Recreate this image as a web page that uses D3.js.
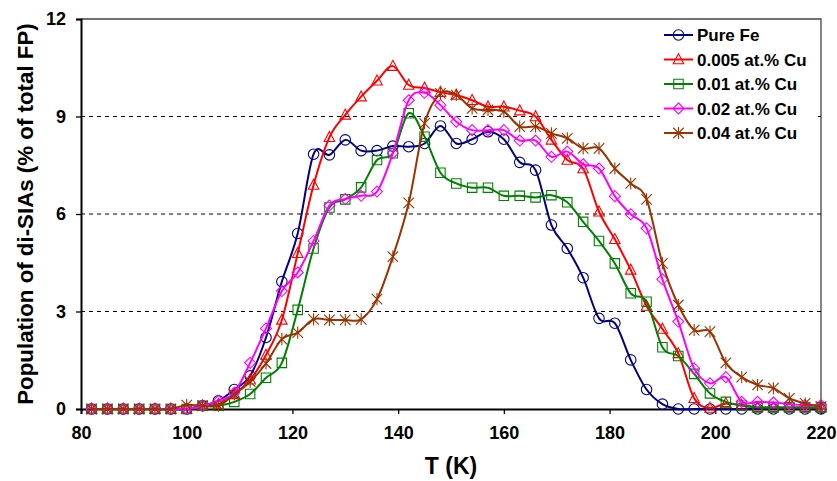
<!DOCTYPE html>
<html lang="en">
<head>
<meta charset="UTF-8">
<title>Population of di-SIAs</title>
<script src="https://d3js.org/d3.v7.min.js"></script>
<style>
  body { margin: 0; background: #fff; }
  svg { font-family: Arial, "Liberation Sans", sans-serif; font-weight: bold; }
  path.line { fill: none; stroke-width: 2px; }
  .marker { fill: none; stroke-width: 1.1px; }
  .grid line { stroke: #000; stroke-dasharray: 4 4; stroke-width: 1px; }
</style>
</head>
<body>
<svg width="837" height="481"></svg>
<script>
// temperatures (K)
let temps = [82,85,88,91,94,97,100,103,106,109,112,115,118,121,124,127,130,133,136,139,142,145,148,151,154,157,160,163,166,169,172,175,178,181,184,187,190,193,196,199,202,205,208,211,214,217,220];

let pureFe = [0,0,0,0,0,0,0,0.1,0.25,0.6,1.02,2.2,3.92,5.4,7.84,7.82,8.28,7.95,7.95,8.09,8.07,8.17,8.71,8.17,8.3,8.53,8.3,7.59,7.35,5.66,4.94,4.04,2.79,2.64,1.51,0.6,0.15,0,0,0,0,0,0,0,0,0,0];
let cu005 = [0,0,0,0,0,0,0,0.1,0.15,0.45,0.9,1.66,2.74,4.79,6.89,8.36,9.05,9.61,10.1,10.55,9.97,9.88,9.75,9.66,9.5,9.3,9.3,9.18,9.0,8.28,7.66,7.4,6.07,5.22,4.28,3.17,2.46,1.71,0.33,0.03,0.17,0.12,0.05,0.05,0.05,0.05,0.05];
let cu01 = [0,0,0,0,0,0,0,0.1,0.1,0.22,0.46,0.96,1.42,3.05,4.94,6.2,6.45,6.82,7.66,7.87,9.1,8.38,7.27,6.94,6.81,6.81,6.56,6.56,6.51,6.58,6.36,5.76,5.17,4.48,3.56,3.3,1.9,1.63,1.08,0.48,0.22,0.1,0.05,0.05,0.05,0.05,0.05];
let cu02 = [0,0,0,0,0,0,0,0.1,0.25,0.5,1.42,2.48,3.63,4.2,5.17,6.26,6.46,6.56,6.69,7.87,9.5,9.73,9.35,8.84,8.58,8.58,8.58,8.26,8.26,7.76,7.92,7.53,7.4,6.55,5.99,5.56,3.99,2.69,1.25,0.79,0.98,0.22,0.22,0.2,0.15,0.12,0.12];
let cu04 = [0,0,0,0,0,0,0.12,0.1,0.1,0.45,0.84,1.4,2.15,2.35,2.76,2.74,2.74,2.76,3.38,4.69,6.34,8.79,9.71,9.66,9.25,9.2,9.15,8.69,8.69,8.48,8.33,8.02,8.02,7.4,6.94,6.45,4.48,3.2,2.43,2.38,1.42,0.98,0.74,0.64,0.33,0.17,0.07];

let seriesNames = ["Pure Fe", "0.005 at.% Cu", "0.01 at.% Cu", "0.02 at.% Cu", "0.04 at.% Cu"];
let seriesColors = ["#000080", "#ff0000", "#008000", "#ff00ff", "#993300"];
let seriesMarkers = ["circle", "triangle", "square", "diamond", "star"];
let seriesValues = [pureFe, cu005, cu01, cu02, cu04];

let xTicks = [80,100,120,140,160,180,200,220];
let yTicks = [0,3,6,9,12];
let gridValues = [3,6,9];

let svg = d3.select('svg');
let plot = {left: 81, right: 821, top: 19, bottom: 409};

let xScale = d3.scaleLinear().domain([80,220]).range([plot.left, plot.right]);
let yScale = d3.scaleLinear().domain([0,12]).range([plot.bottom, plot.top]);

// frame (top and right)
svg.append('path')
    .attr('d', `M${plot.left},${plot.top}H${plot.right}V${plot.bottom}`)
    .attr('fill', 'none').attr('stroke', '#444').attr('stroke-width', 1.3);

// dashed grid
svg.append('g').attr('class', 'grid')
    .selectAll('line').data(gridValues).join('line')
    .attr('x1', plot.left).attr('x2', plot.right)
    .attr('y1', d => yScale(d)).attr('y2', d => yScale(d));

// axes
let xAxis = svg.append('g')
    .attr('transform', 'translate(0,' + plot.bottom + ')')
    .call(d3.axisBottom(xScale).tickValues(xTicks).tickSize(5).tickPadding(12));
let yAxis = svg.append('g')
    .attr('transform', 'translate(' + plot.left + ',0)')
    .call(d3.axisLeft(yScale).tickValues(yTicks).tickSize(5).tickPadding(10));
[xAxis, yAxis].forEach(a => {
    a.select('.domain').attr('stroke', '#000').attr('stroke-width', 2);
    a.selectAll('.tick line').attr('stroke', '#000').attr('stroke-width', 1.3);
    a.selectAll('.tick text').attr('font-size', 18).attr('font-family', 'Arial, Liberation Sans, sans-serif').attr('font-weight', 'bold').attr('fill', '#000');
});

// axis titles
svg.append('text')
    .attr('x', 451).attr('y', 474)
    .attr('text-anchor', 'middle').attr('font-size', 23)
    .text('T (K)');
svg.append('text')
    .attr('transform', 'translate(33,214) rotate(-90)')
    .attr('text-anchor', 'middle').attr('font-size', 22.3)
    .text('Population of di-SIAs (% of total FP)');

function markerPath(type, s) {
    let h = s / 2;
    if (type === 'circle') return `M${-h},0A${h},${h} 0 1,0 ${h},0A${h},${h} 0 1,0 ${-h},0Z`;
    if (type === 'triangle') return `M0,${-h*1.1}L${h},${h*0.8}L${-h},${h*0.8}Z`;
    if (type === 'square') return `M${-h*0.9},${-h*0.9}H${h*0.9}V${h*0.9}H${-h*0.9}Z`;
    if (type === 'diamond') return `M0,${-h*1.05}L${h*1.05},0L0,${h*1.05}L${-h*1.05},0Z`;
    // star: X plus vertical bar
    return `M${-h},${-h}L${h},${h}M${-h},${h}L${h},${-h}M0,${-h*1.15}V${h*1.15}`;
}

let line = d3.line()
    .x((d, i) => xScale(temps[i]))
    .y(d => yScale(d))
    .curve(d3.curveCardinal.tension(0));

seriesValues.forEach((vals, k) => {
    let g = svg.append('g');
    g.append('path').datum(vals)
        .attr('class', 'line')
        .attr('stroke', seriesColors[k])
        .attr('d', line);
    g.selectAll('path.marker').data(vals).join('path')
        .attr('class', 'marker')
        .attr('stroke', seriesColors[k])
        .attr('transform', (d, i) => 'translate(' + xScale(temps[i]) + ',' + yScale(d) + ')')
        .attr('d', markerPath(seriesMarkers[k], 10.5));
});

// legend
let legend = svg.append('g');
legend.append('rect')
    .attr('x', 660).attr('y', 22).attr('width', 158).attr('height', 124)
    .attr('fill', '#fff');
seriesNames.forEach((name, k) => {
    let y = 35 + k * 24.5;
    legend.append('line')
        .attr('x1', 664).attr('x2', 693).attr('y1', y).attr('y2', y)
        .attr('stroke', seriesColors[k]).attr('stroke-width', 2);
    legend.append('path')
        .attr('class', 'marker')
        .attr('stroke', seriesColors[k])
        .attr('transform', 'translate(678.5,' + y + ')')
        .attr('d', markerPath(seriesMarkers[k], 10.5));
    legend.append('text')
        .attr('x', 697).attr('y', y + 6)
        .attr('font-size', 17)
        .text(name);
});
</script>
</body>
</html>
